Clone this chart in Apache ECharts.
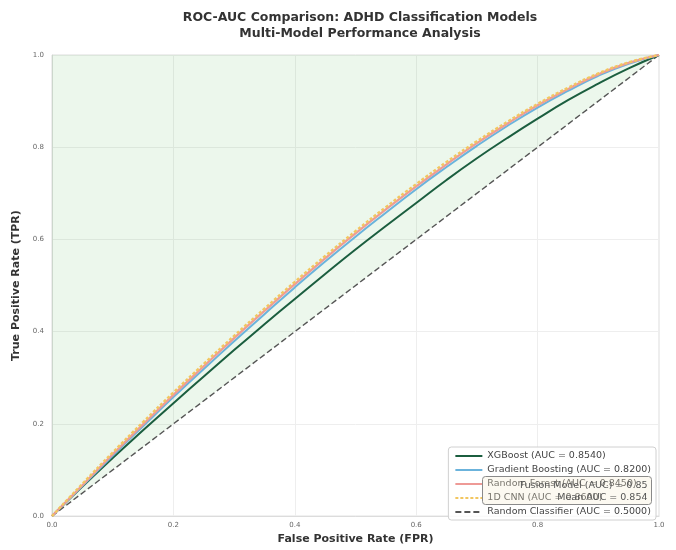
<!DOCTYPE html>
<html>
<head>
<meta charset="utf-8">
<script src="https://cdn.jsdelivr.net/npm/echarts@6/dist/echarts.min.js"></script>
<style>
  html, body { margin: 0; padding: 0; background: #fff; }
  #chart { width: 676px; height: 550px; }
</style>
</head>
<body>
<div id="chart"></div>
<script>
// False positive rate sample points shared by every ROC curve
const fpr = [0, 0.05, 0.1, 0.15, 0.2, 0.25, 0.3, 0.35, 0.4, 0.45, 0.5,
             0.55, 0.6, 0.65, 0.7, 0.75, 0.8, 0.85, 0.9, 0.95, 1];

// True positive rate for each model at the points above
const tprXGBoost = [0, 0.064, 0.126, 0.186, 0.245, 0.303, 0.36, 0.416, 0.471, 0.525, 0.578,
                    0.629, 0.679, 0.729, 0.776, 0.82, 0.862, 0.902, 0.938, 0.971, 1];
const tprGradientBoosting = [0, 0.065, 0.131, 0.195, 0.258, 0.319, 0.379, 0.438, 0.496, 0.552, 0.606,
                             0.658, 0.709, 0.757, 0.803, 0.846, 0.886, 0.922, 0.955, 0.981, 1];
const tprRandomForest = [0, 0.067, 0.134, 0.199, 0.263, 0.325, 0.386, 0.445, 0.503, 0.559, 0.613,
                         0.665, 0.715, 0.763, 0.809, 0.851, 0.891, 0.926, 0.958, 0.983, 1];
const tprCNN = [0, 0.07, 0.138, 0.204, 0.268, 0.33, 0.391, 0.45, 0.508, 0.564, 0.618,
                0.67, 0.72, 0.768, 0.813, 0.855, 0.894, 0.929, 0.96, 0.984, 1];

// Chance diagonal
const chanceFpr = [0, 1];
const chanceTpr = [0, 1];

// Legend names
const names = [
  'XGBoost (AUC = 0.8540)',
  'Gradient Boosting (AUC = 0.8200)',
  'Random Forest (AUC = 0.8450)',
  '1D CNN (AUC = 0.8600)',
  'Random Classifier (AUC = 0.5000)'
];

// Summary box text
const summaryLines = ['Fusion Model (AUC) = 0.85', 'Mean AUC = 0.854'];

function pairs(xs, ys) { return xs.map((x, i) => [x, ys[i]]); }

const FONT = '"DejaVu Sans", sans-serif';

const chart = echarts.init(document.getElementById('chart'), null, { renderer: 'canvas' });

function curve(name, ys, color, width, lineType) {
  return {
    name: name,
    type: 'line',
    data: pairs(fpr, ys),
    smooth: true,
    symbol: 'none',
    lineStyle: { color: color, width: width, type: lineType || 'solid' },
    itemStyle: { color: color },
    z: 4,
    animation: false
  };
}

chart.setOption({
  backgroundColor: '#ffffff',
  animation: false,
  title: {
    text: 'ROC-AUC Comparison: ADHD Classification Models\nMulti-Model Performance Analysis',
    left: 355,
    textAlign: 'center',
    top: 5,
    textStyle: { fontFamily: FONT, fontSize: 12.5, fontWeight: 'bold', color: '#333', lineHeight: 16 }
  },
  grid: { left: 52, right: 17, top: 55, bottom: 28, show: true, borderColor: '#dcdcdc', borderWidth: 1 },
  xAxis: {
    type: 'value', min: 0, max: 1, interval: 0.2,
    name: 'False Positive Rate (FPR)', nameLocation: 'middle', nameGap: 14,
    nameTextStyle: { fontFamily: FONT, fontSize: 11, fontWeight: 'bold', color: '#333' },
    axisLine: { show: true, lineStyle: { color: '#dcdcdc' } },
    axisTick: { show: false },
    axisLabel: { fontFamily: FONT, fontSize: 7, color: '#666', margin: 6,
                 formatter: v => v.toFixed(1) },
    splitLine: { show: true, lineStyle: { color: '#eeeeee', width: 1 } }
  },
  yAxis: {
    type: 'value', min: 0, max: 1, interval: 0.2,
    name: 'True Positive Rate (TPR)', nameLocation: 'middle', nameGap: 28, nameRotate: 90,
    nameTextStyle: { fontFamily: FONT, fontSize: 11, fontWeight: 'bold', color: '#333' },
    axisLine: { show: true, lineStyle: { color: '#dcdcdc' } },
    axisTick: { show: false },
    axisLabel: { fontFamily: FONT, fontSize: 7, color: '#666', margin: 8,
                 formatter: v => v.toFixed(1) },
    splitLine: { show: true, lineStyle: { color: '#eeeeee', width: 1 } }
  },
  legend: {
    data: names,
    orient: 'vertical',
    right: 20,
    bottom: 30,
    itemWidth: 27,
    itemHeight: 8,
    itemGap: 4,
    padding: [4, 5, 3, 6],
    backgroundColor: 'rgba(255,255,255,0.85)',
    borderColor: '#d0d0d0',
    borderWidth: 1,
    borderRadius: 3,
    itemStyle: { opacity: 0 },
    textStyle: { fontFamily: FONT, fontSize: 9.5, color: '#444' }
  },
  series: [
    {
      name: 'area',
      type: 'line',
      data: pairs(chanceFpr, chanceTpr),
      symbol: 'none',
      lineStyle: { width: 0 },
      areaStyle: { color: 'rgba(76,175,80,0.15)', origin: 'end' },
      z: 1,
      silent: true,
      animation: false
    },
    {
      name: names[4],
      type: 'line',
      data: pairs(chanceFpr, chanceTpr),
      symbol: 'none',
      lineStyle: { color: '#555555', width: 1.4, type: [6, 3] },
      itemStyle: { color: '#555555' },
      z: 3,
      animation: false
    },
    curve(names[0], tprXGBoost, '#1b5e3f', 2),
    curve(names[1], tprGradientBoosting, '#6bb3dc', 2),
    curve(names[2], tprRandomForest, '#ee9a96', 2.2),
    curve(names[3], tprCNN, '#f2c660', 2.4, [3, 2])
  ],
  graphic: [
    {
      type: 'group',
      left: 482,
      top: 476,
      zlevel: 2,
      children: [
        {
          type: 'rect',
          zlevel: 2,
          z: 100,
          shape: { x: 0, y: 0, width: 169, height: 28, r: 3 },
          style: { fill: 'rgba(245,235,210,0.3)', stroke: '#8a8a8a', lineWidth: 1 }
        },
        {
          type: 'text',
          zlevel: 2,
          z: 101,
          style: {
            x: 165, y: 3, text: summaryLines.join('\n'), align: 'right',
            fontFamily: FONT, fontSize: 9.5, lineHeight: 12, fill: '#555'
          }
        }
      ]
    }
  ]
});
</script>
</body>
</html>
